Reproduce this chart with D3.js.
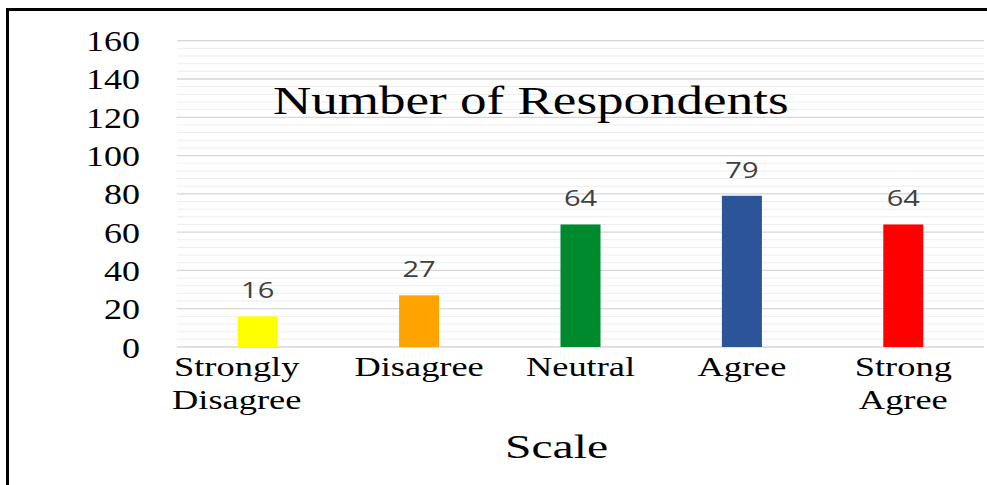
<!DOCTYPE html>
<html>
<head>
<meta charset="utf-8">
<script src="https://cdn.jsdelivr.net/npm/d3@7/dist/d3.min.js"></script>
<style>
  html, body { margin: 0; padding: 0; background: #fff; }
  svg { display: block; }
</style>
</head>
<body>
<svg id="chart" width="987" height="485"></svg>
<script>
// Survey responses on a five-point scale
const categories = ["Strongly Disagree", "Disagree", "Neutral", "Agree", "Strong Agree"];
const categoryLines = [["Strongly", "Disagree"], ["Disagree"], ["Neutral"], ["Agree"], ["Strong", "Agree"]];
const respondents = [16, 27, 64, 79, 64];
const barColors = ["#FFFF00", "#FFA300", "#008A2E", "#2B5598", "#FF0000"];
const yTicks = [0, 20, 40, 60, 80, 100, 120, 140, 160];
const chartTitle = "Number of Respondents";
const xAxisTitle = "Scale";

const svg = d3.select("#chart");
const W = 987, H = 485;
const plot = { left: 177, right: 984, top: 40.7, bottom: 347 };

const serif = "'Liberation Serif', 'Times New Roman', serif";
const sans = "'Open Sans', 'Liberation Sans', sans-serif";

const x = d3.scaleBand()
  .domain(categories)
  .range([plot.left, plot.right])
  .paddingInner(0.752)
  .paddingOuter(0.376);

const y = d3.scaleLinear()
  .domain([0, 160])
  .range([plot.bottom, plot.top]);

// outer frame
svg.append("rect")
  .attr("x", 7.5).attr("y", 9.5)
  .attr("width", W + 20).attr("height", H + 20)
  .attr("fill", "none").attr("stroke", "#000").attr("stroke-width", 3);

// horizontal gridlines: minor every 4, major every 20
const minor = d3.range(0, 161, 4).filter(v => v % 20 !== 0);
svg.append("g").selectAll("line")
  .data(minor)
  .join("line")
  .attr("x1", plot.left).attr("x2", plot.right)
  .attr("y1", d => y(d)).attr("y2", d => y(d))
  .attr("stroke", "#ededed").attr("stroke-width", 1);

svg.append("g").selectAll("line")
  .data(yTicks)
  .join("line")
  .attr("x1", plot.left).attr("x2", plot.right)
  .attr("y1", d => y(d)).attr("y2", d => y(d))
  .attr("stroke", "#d6d6d6").attr("stroke-width", 1.3);

// helper: horizontally stretched text anchored at (px, py)
function stretchedText(g, str, px, py, size, family, anchor, sx, fill) {
  return g.append("text")
    .attr("transform", `translate(${px},${py}) scale(${sx},1)`)
    .attr("text-anchor", anchor)
    .attr("font-family", family)
    .attr("font-size", size)
    .attr("fill", fill || "#000")
    .text(str);
}

// y-axis tick labels
const yAxisG = svg.append("g");
yTicks.forEach(t => {
  stretchedText(yAxisG, String(t), 140, y(t) + 10.5, 30, serif, "end", 1.2);
});

// bars
svg.append("g").selectAll("rect")
  .data(respondents)
  .join("rect")
  .attr("x", (d, i) => x(categories[i]))
  .attr("width", x.bandwidth())
  .attr("y", d => y(d))
  .attr("height", d => y(0) - y(d))
  .attr("fill", (d, i) => barColors[i]);

// value labels
const valG = svg.append("g");
respondents.forEach((v, i) => {
  const cx = x(categories[i]) + x.bandwidth() / 2;
  stretchedText(valG, String(v), cx, y(v) - 18, 21.5, sans, "middle", 1.35, "#404040");
});

// category labels (wrapped)
const catG = svg.append("g");
categoryLines.forEach((lines, i) => {
  let cx = x(categories[i]) + x.bandwidth() / 2;
  if (i === 0) cx -= 21;
  lines.forEach((ln, j) => {
    stretchedText(catG, ln, cx, 376 + j * 33, 28, serif, "middle", 1.3);
  });
});

// chart title inside the plot
stretchedText(svg, chartTitle, 273, 114.3, 39, serif, "start", 1.36);

// x-axis title
stretchedText(svg, xAxisTitle, 556.5, 457.7, 34, serif, "middle", 1.4);
</script>
</body>
</html>
